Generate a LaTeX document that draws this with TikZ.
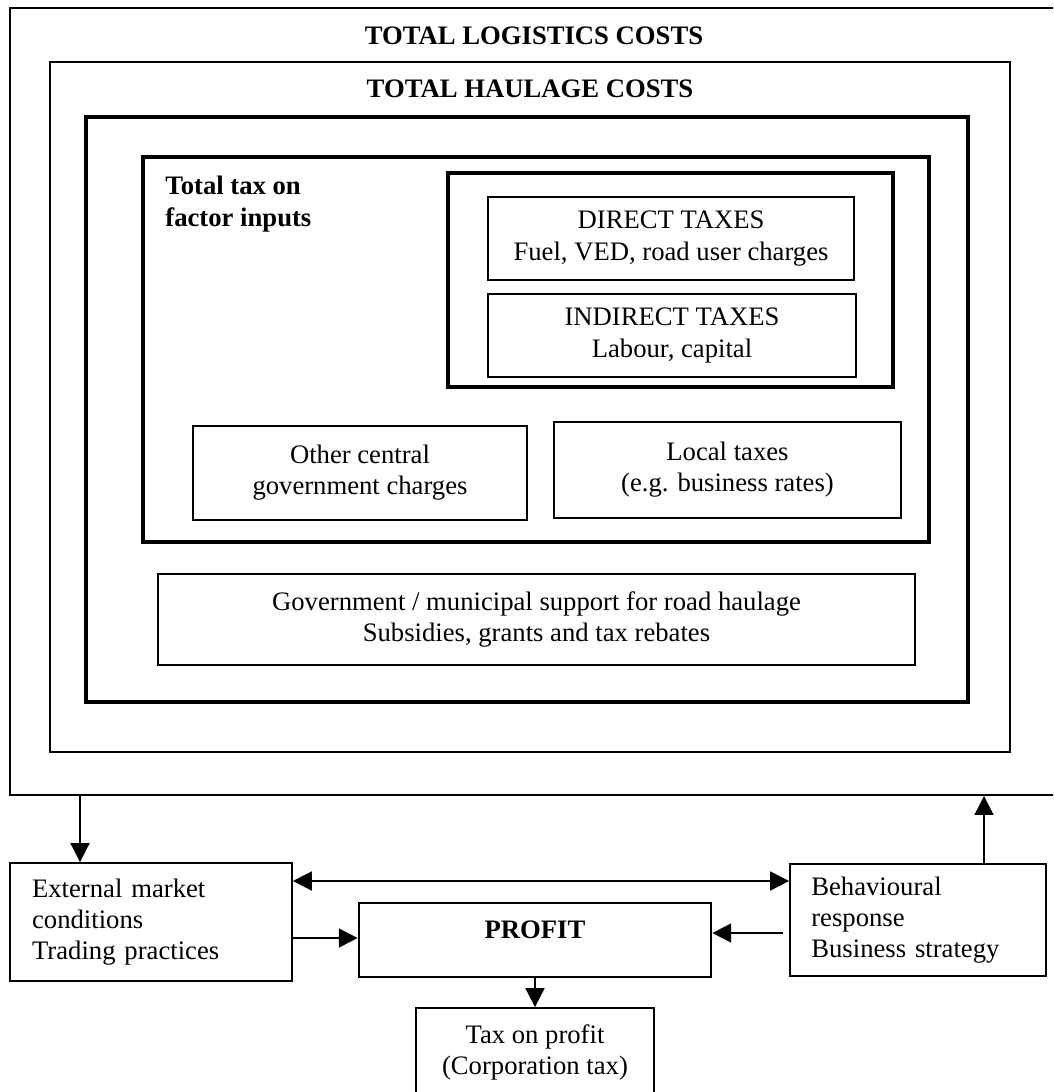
\documentclass[tikz,border=0pt]{standalone}
\usepackage{fontspec}
\setmainfont{Liberation Serif}
\usetikzlibrary{arrows.meta}

\tikzset{
  txt/.style={font=\fontsize{12}{14}\selectfont},
  ttl/.style={font=\fontsize{12}{14}\selectfont\bfseries},
  sz/.style 2 args={minimum width=#1*0.45pt, minimum height=#2*0.45pt},
  frame/.style={draw, inner sep=0pt},
  box/.style={draw, txt, line width=0.8pt, inner sep=0pt, align=center},
  link/.style={->, line width=0.8pt},
}

\begin{document}
\begin{tikzpicture}[x=0.45pt, y=-0.45pt, >={Triangle[length=8.5pt,width=8.5pt]}]
    \useasboundingbox (0,0) rectangle (1053,1092);
    \clip (0,0) rectangle (1053,1092);
    % nested frames
    \node[frame, line width=0.9pt, sz={1060}{787}] (logistics) at (540,401.5) {};
    \node[frame, line width=0.9pt, sz={960}{690}] (haulage) at (530,407) {};
    \node[frame, line width=2.2pt, sz={882}{585}] (inner) at (527,409.5) {};
    \node[frame, line width=1.8pt, sz={786}{385}] (factor) at (536,349.5) {};
    \node[frame, line width=1.4pt, sz={445}{214}] (taxes) at (670.5,280) {};
    \node[ttl, anchor=base] (logtitle) at (534,45) {TOTAL LOGISTICS COSTS};
    \node[ttl, anchor=base] (haultitle) at (530,98) {TOTAL HAULAGE COSTS};
    \node[ttl, anchor=north west, inner sep=0pt, align=left] (factortitle) at (165,176) {Total tax on\\factor inputs};
    % tax boxes
    \node[box, sz={366}{83}] (direct) at (671,238.5) {DIRECT TAXES\\Fuel, VED, road user charges};
    \node[box, sz={368}{83}] (indirect) at (672,335.5) {INDIRECT TAXES\\Labour, capital};
    \node[box, sz={334}{94}] (central) at (360,473) {Other central\\government charges};
    \node[box, sz={347}{96}] (local) at (727.5,470) {Local taxes\\(e.g. business rates)};
    \node[box, sz={757}{91}] (support) at (536.5,619.5) {Government / municipal support for road haulage\\Subsidies, grants and tax rebates};
    % below the frames
    \node[box, align=left, text width=107pt, sz={282}{118}] (ext) at (151,922) {External market\\conditions\\Trading practices};
    \node[box, align=left, text width=96pt, sz={256}{112}] (beh) at (918,920) {Behavioural\\response\\Business strategy};
    \node[box, ttl, line width=1.2pt, text depth=9pt, sz={352}{74}] (profit) at (535,940) {PROFIT};
    \node[box, sz={238}{88}] (ptax) at (535,1052) {Tax on profit\\(Corporation tax)};
    % connectors
    \coordinate (downx) at (80,0);
    \coordinate (upx) at (984,0);
    \coordinate (both) at (0,881);
    \coordinate (inl) at (0,938);
    \coordinate (inr) at (0,933);
    \draw[link] (logistics.south -| downx) -- (ext.north -| downx);
    \draw[link] (beh.north -| upx) -- (logistics.south -| upx);
    \draw[link, <->] (ext.east |- both) -- (beh.west |- both);
    \draw[link] (ext.east |- inl) -- (profit.west |- inl);
    \draw[link, shorten <=2.7pt] (beh.west |- inr) -- (profit.east |- inr);
    \draw[link] (profit.south) -- (ptax.north);
\end{tikzpicture}
\end{document}
